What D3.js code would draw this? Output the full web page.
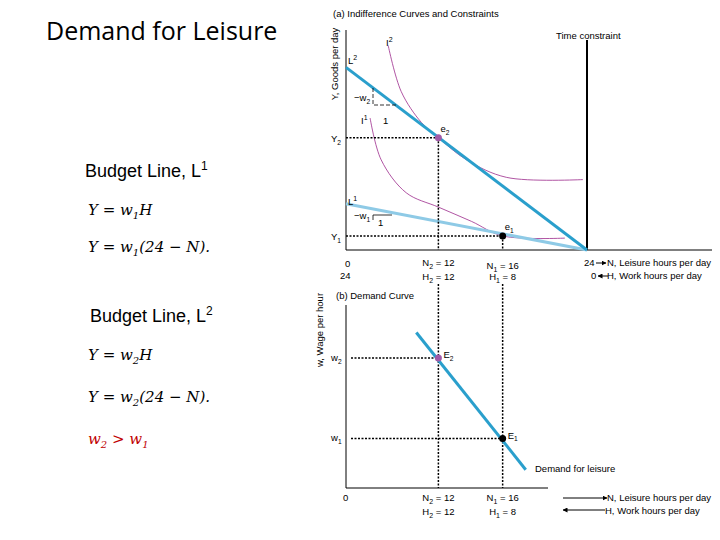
<!DOCTYPE html>
<html>
<head>
<meta charset="utf-8">
<script src="https://d3js.org/d3.v7.min.js"></script>
<style>
body{margin:0;background:#fff;}
text{font-family:"Liberation Sans",Arial,sans-serif;}
</style>
</head>
<body>
<script>
// panel (a): leisure hours (axis position) vs goods index
var budget2 = [[0, 83], [24, 0]];
var budget1 = [[0, 21], [24, 0]];
var indiff2 = [[4.2, 93], [5.5, 72], [7.5, 58], [9.2, 51], [12, 41], [16, 33], [23.6, 32]];
var indiff1 = [[2.4, 60], [3.5, 41], [6, 26], [9.2, 19.5], [12.5, 13], [15.6, 6.4], [21.8, 5.4]];
var eq = [{n: 9.2, y: 51, label: "e", sub: "2", col: "#a05aa8"}, {n: 15.6, y: 6.4, label: "e", sub: "1", col: "#000"}];
// panel (b): wage
var demand = [[7, 85], [17.9, 10]];
var wages = [{n: 9.2, w: 71, label: "E", sub: "2", col: "#a05aa8"}, {n: 15.6, w: 27, label: "E", sub: "1", col: "#000"}];
var nTicks = [{n: 9.2, N: "N", ns: "2", nv: " = 12", H: "H", hs: "2", hv: " = 12"}, {n: 15.6, N: "N", ns: "1", nv: " = 16", H: "H", hs: "1", hv: " = 8"}];

var svg = d3.select("body").append("svg").attr("width", 720).attr("height", 540);

var x = d3.scaleLinear().domain([0, 24]).range([346, 587]);
var ya = d3.scaleLinear().domain([0, 100]).range([250, 30]);
var yb = d3.scaleLinear().domain([0, 100]).range([488, 305]);
var line = d3.line().x(function(d){ return x(d[0]); });

function sub(t, main, s, fs){
    t.append("tspan").text(main);
    t.append("tspan").attr("font-size", fs * 0.7).attr("dy", fs * 0.3).text(s);
}

// left text
svg.append("text").attr("x", 46).attr("y", 40).style("font-family", "'Open Sans', sans-serif").attr("font-size", 25).text("Demand for Leisure");
function bl(y, n){
    var t = svg.append("text").attr("x", n == "1" ? 85 : 90).attr("y", y).attr("font-size", 18);
    t.append("tspan").text("Budget Line, L");
    t.append("tspan").attr("font-size", 12).attr("dy", -7).text(n);
}
bl(177, "1"); bl(322, "2");
function eqn(y, s, rest, col){
    var t = svg.append("text").attr("x", 88).attr("y", y).attr("font-size", 15).attr("font-style", "italic").attr("fill", col || "#000")
      .style("font-family", "'DejaVu Serif', serif");
    t.append("tspan").text("Y = w");
    t.append("tspan").attr("font-size", 10).attr("dy", 4).text(s);
    t.append("tspan").attr("dy", -4).text(rest);
}
eqn(215, "1", "H"); eqn(252, "1", "(24 − N)."); eqn(360, "2", "H"); eqn(402, "2", "(24 − N).");
var tr = svg.append("text").attr("x", 88).attr("y", 444).attr("font-size", 15).attr("font-style", "italic").attr("fill", "#c00000").style("font-family", "'DejaVu Serif', serif");
tr.append("tspan").text("w"); tr.append("tspan").attr("font-size", 10).attr("dy", 4).text("2");
tr.append("tspan").attr("dy", -4).text(" > w"); tr.append("tspan").attr("font-size", 10).attr("dy", 4).text("1");

svg.append("defs").append("marker").attr("id", "ar").attr("viewBox", "0 0 10 10").attr("refX", 9).attr("refY", 5)
  .attr("markerWidth", 5).attr("markerHeight", 5).attr("orient", "auto").append("path").attr("d", "M0,0L10,5L0,10z");

// panel (a)
svg.append("text").attr("x", 333).attr("y", 17).attr("font-size", 9.5).text("(a) Indifference Curves and Constraints");
svg.append("text").attr("transform", "translate(338,64) rotate(-90)").attr("text-anchor", "middle").attr("font-size", 9.5).text("Y, Goods per day");
svg.append("line").attr("x1", x(0)).attr("x2", x(0)).attr("y1", ya(100)).attr("y2", ya(0)).attr("stroke", "#000");
svg.append("line").attr("x1", x(0)).attr("x2", 712).attr("y1", ya(0)).attr("y2", ya(0)).attr("stroke", "#000");
svg.append("line").attr("x1", x(24)).attr("x2", x(24)).attr("y1", 40).attr("y2", ya(0)).attr("stroke", "#000").attr("stroke-width", 2);
svg.append("text").attr("x", 556).attr("y", 39).attr("font-size", 9.5).text("Time constraint");

line.y(function(d){ return ya(d[1]); });
var cl = line.curve(d3.curveCatmullRom);
svg.append("path").attr("d", cl(indiff2)).attr("fill", "none").attr("stroke", "#9c2a8c").attr("stroke-width", 0.8);
svg.append("path").attr("d", cl(indiff1)).attr("fill", "none").attr("stroke", "#9c2a8c").attr("stroke-width", 0.8);
line.curve(d3.curveLinear);
svg.append("path").attr("d", line(budget1)).attr("stroke", "#8ecae6").attr("stroke-width", 3);
svg.append("path").attr("d", line(budget2)).attr("stroke", "#2a9fcc").attr("stroke-width", 3);

function dotted(x1, x2, y1, y2){
    svg.append("line").attr("x1", x1).attr("x2", x2).attr("y1", y1).attr("y2", y2).attr("stroke", "#000").attr("stroke-dasharray", "2,1.5").attr("stroke-width", 1.5);
}
eq.forEach(function(e){
    dotted(x(0), x(e.n), ya(e.y), ya(e.y));
    dotted(x(e.n), x(e.n), ya(e.y), ya(0));
    dotted(x(e.n), x(e.n), 284, yb(0));
    svg.append("circle").attr("cx", x(e.n)).attr("cy", ya(e.y)).attr("r", 3.5).attr("fill", e.col);
    sub(svg.append("text").attr("x", x(e.n) + 2).attr("y", ya(e.y) - 6).attr("font-size", 9.5), e.label, e.sub, 9.5);
});
sub(svg.append("text").attr("x", 331).attr("y", 142).attr("font-size", 9.5), "Y", "2", 9.5);
sub(svg.append("text").attr("x", 331).attr("y", 240).attr("font-size", 9.5), "Y", "1", 9.5);
function sup(xx, yy, m, s){
    var t = svg.append("text").attr("x", xx).attr("y", yy).attr("font-size", 9.5);
    t.append("tspan").text(m); t.append("tspan").attr("font-size", 7).attr("dy", -4).text(s);
}
sup(386, 46, "I", "2"); sup(348, 64, "L", "2"); sup(361, 124, "I", "1"); sup(348, 205, "L", "1");
sub(svg.append("text").attr("x", 354).attr("y", 101).attr("font-size", 9.5), "−w", "2", 9.5);
svg.append("path").attr("d", "M373,88V105H396").attr("fill", "none").attr("stroke", "#000").attr("stroke-width", 0.8).attr("stroke-dasharray", "4,2");
svg.append("text").attr("x", 383).attr("y", 124).attr("font-size", 9.5).text("1");
sub(svg.append("text").attr("x", 354).attr("y", 219).attr("font-size", 9.5), "−w", "1", 9.5);
svg.append("path").attr("d", "M373,220V215H392").attr("fill", "none").attr("stroke", "#000").attr("stroke-width", 0.8);
svg.append("text").attr("x", 378).attr("y", 226).attr("font-size", 9.5).text("1");

svg.append("text").attr("x", 345).attr("y", 267).attr("font-size", 9.5).text("0");
svg.append("text").attr("x", 340).attr("y", 279).attr("font-size", 9.5).text("24");
nTicks.forEach(function(t, i){
    var dy = i ? 3 : 0;
    var a = svg.append("text").attr("x", x(t.n)).attr("y", 266 + dy).attr("text-anchor", "middle").attr("font-size", 9.5);
    a.append("tspan").text(t.N); a.append("tspan").attr("font-size", 7).attr("dy", 3).text(t.ns); a.append("tspan").attr("dy", -3).text(t.nv);
    var b = svg.append("text").attr("x", x(t.n)).attr("y", 280).attr("text-anchor", "middle").attr("font-size", 9.5);
    b.append("tspan").text(t.H); b.append("tspan").attr("font-size", 7).attr("dy", 3).text(t.hs); b.append("tspan").attr("dy", -3).text(t.hv);
});
svg.append("text").attr("x", 584).attr("y", 266).attr("font-size", 9.5).text("24");
svg.append("text").attr("x", 591).attr("y", 279).attr("font-size", 9.5).text("0");
svg.append("line").attr("x1", 596).attr("x2", 606).attr("y1", 263).attr("y2", 263).attr("stroke", "#000").attr("marker-end", "url(#ar)");
svg.append("line").attr("x1", 608).attr("x2", 598).attr("y1", 276).attr("y2", 276).attr("stroke", "#000").attr("marker-end", "url(#ar)");
svg.append("text").attr("x", 607).attr("y", 266).attr("font-size", 9.5).text("N, Leisure hours per day");
svg.append("text").attr("x", 607).attr("y", 279).attr("font-size", 9.5).text("H, Work hours per day");

// panel (b)
svg.append("text").attr("x", 336).attr("y", 299).attr("font-size", 9.5).text("(b) Demand Curve");
svg.append("text").attr("transform", "translate(323,330) rotate(-90)").attr("text-anchor", "middle").attr("font-size", 9.5).text("w, Wage per hour");
svg.append("line").attr("x1", x(0)).attr("x2", x(0)).attr("y1", yb(100)).attr("y2", yb(0)).attr("stroke", "#000");
svg.append("line").attr("x1", x(0)).attr("x2", 548).attr("y1", yb(0)).attr("y2", yb(0)).attr("stroke", "#000");
line.y(function(d){ return yb(d[1]); });
svg.append("path").attr("d", line(demand)).attr("stroke", "#2a9fcc").attr("stroke-width", 3);
wages.forEach(function(e){
    dotted(x(0) + 5, x(e.n), yb(e.w), yb(e.w));
    svg.append("circle").attr("cx", x(e.n)).attr("cy", yb(e.w)).attr("r", 3.5).attr("fill", e.col);
    sub(svg.append("text").attr("x", x(e.n) + 5).attr("y", yb(e.w)).attr("font-size", 9.5), e.label, e.sub, 9.5);
});
sub(svg.append("text").attr("x", 331).attr("y", 361).attr("font-size", 9.5), "w", "2", 9.5);
sub(svg.append("text").attr("x", 331).attr("y", 441).attr("font-size", 9.5), "w", "1", 9.5);
svg.append("text").attr("x", 535).attr("y", 472).attr("font-size", 9.5).text("Demand for leisure");
svg.append("text").attr("x", 343).attr("y", 501).attr("font-size", 9.5).text("0");
nTicks.forEach(function(t){
    var a = svg.append("text").attr("x", x(t.n)).attr("y", 501).attr("text-anchor", "middle").attr("font-size", 9.5);
    a.append("tspan").text(t.N); a.append("tspan").attr("font-size", 7).attr("dy", 3).text(t.ns); a.append("tspan").attr("dy", -3).text(t.nv);
    var b = svg.append("text").attr("x", x(t.n)).attr("y", 515).attr("text-anchor", "middle").attr("font-size", 9.5);
    b.append("tspan").text(t.H); b.append("tspan").attr("font-size", 7).attr("dy", 3).text(t.hs); b.append("tspan").attr("dy", -3).text(t.hv);
});
svg.append("line").attr("x1", 563).attr("x2", 607).attr("y1", 498).attr("y2", 498).attr("stroke", "#000").attr("marker-end", "url(#ar)");
svg.append("line").attr("x1", 605).attr("x2", 563).attr("y1", 510).attr("y2", 510).attr("stroke", "#000").attr("marker-end", "url(#ar)");
svg.append("text").attr("x", 607).attr("y", 501).attr("font-size", 9.5).text("N, Leisure hours per day");
svg.append("text").attr("x", 605).attr("y", 514).attr("font-size", 9.5).text("H, Work hours per day");
</script>
</body>
</html>
